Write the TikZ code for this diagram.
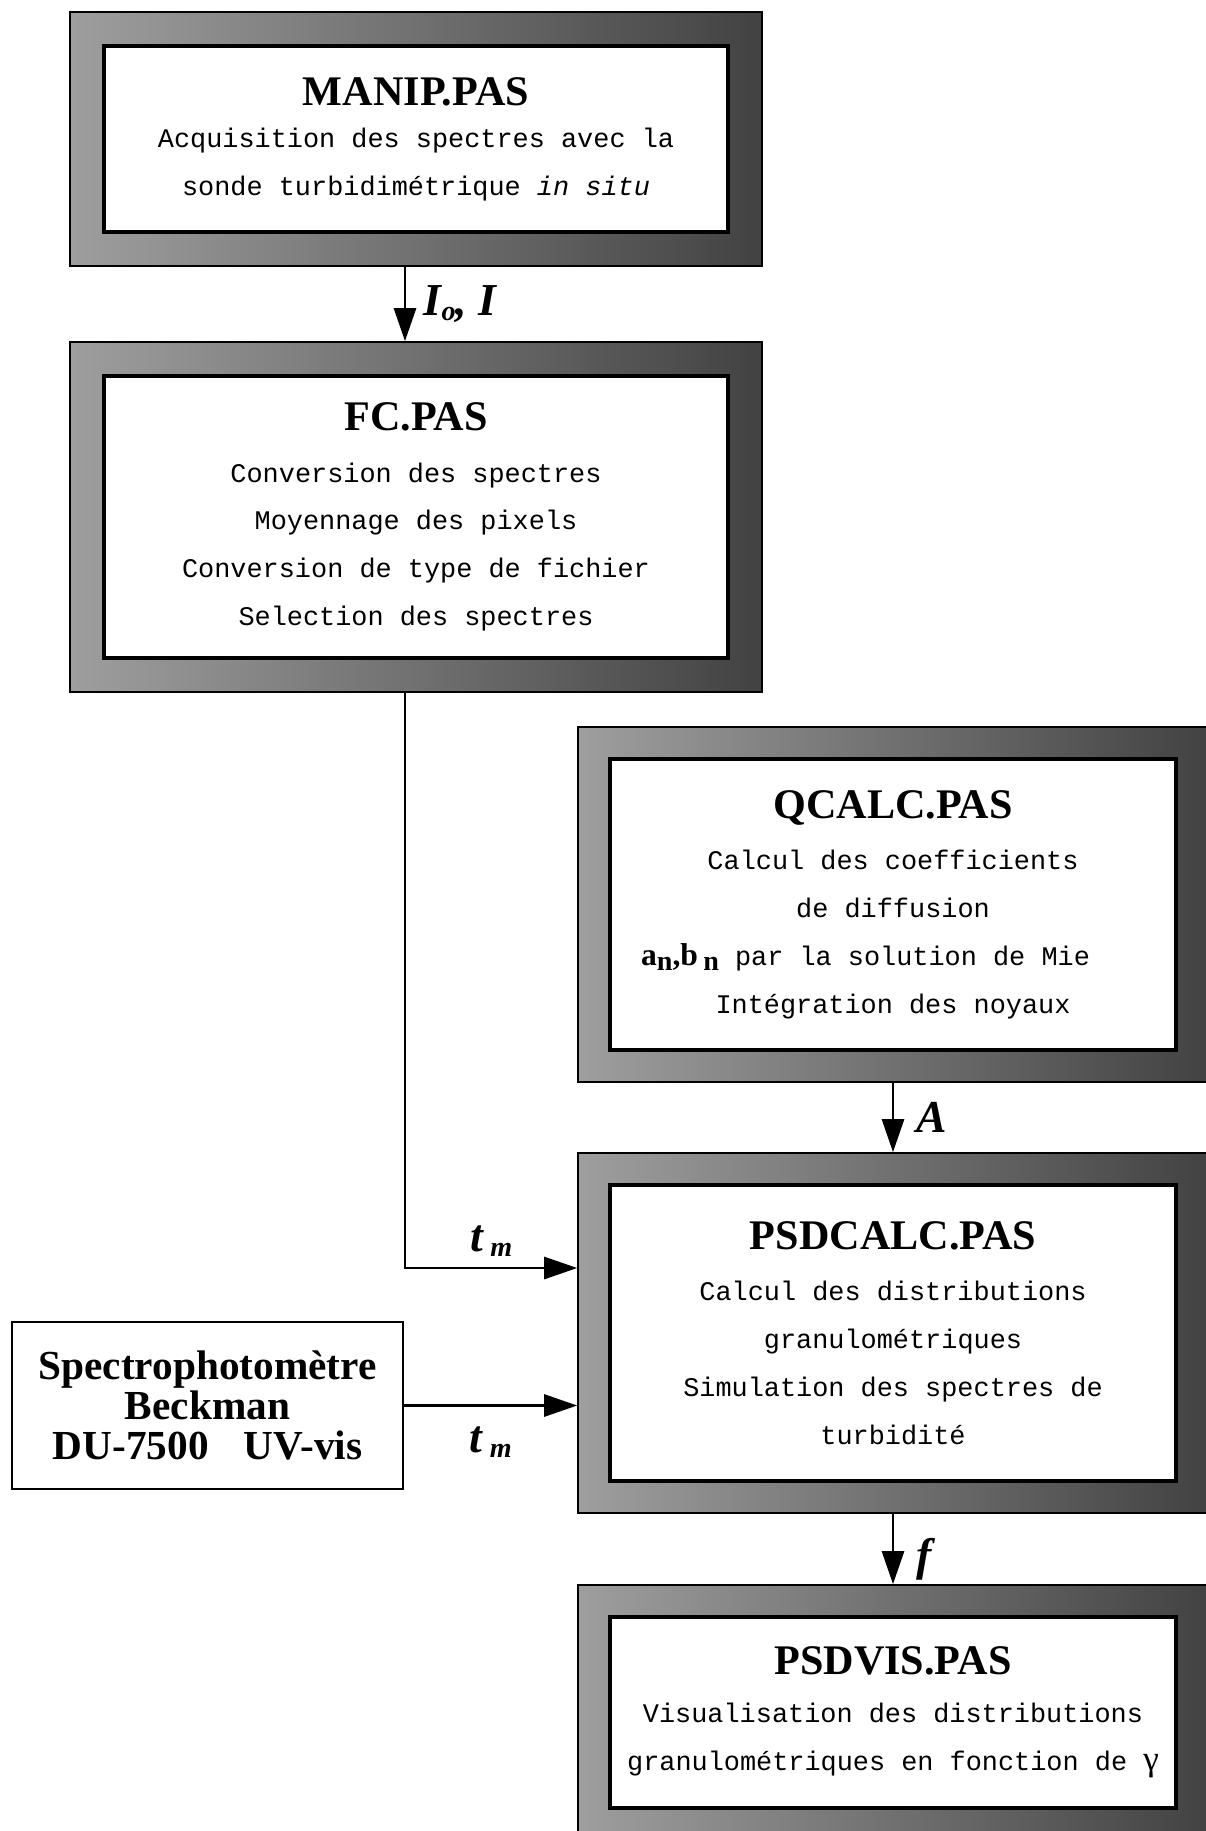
\documentclass[tikz,border=0pt]{standalone}
\usepackage{fontspec}
\setmainfont{Liberation Serif}
\setmonofont{Liberation Mono}
\usepackage{tikz}
\usetikzlibrary{arrows.meta, calc}

\definecolor{frameL}{gray}{0.62}
\definecolor{frameR}{gray}{0.26}
\newcommand{\ttl}{\fontsize{24}{26}\selectfont\rmfamily\bfseries}
\newcommand{\lowsub}[1]{\raisebox{-3pt}{\fontsize{16}{16}\selectfont #1}}

\begin{document}
\begin{tikzpicture}
    [x=0.02cm, y=-0.02cm,
     frame/.style={draw, line width=1pt, left color=frameL, right color=frameR, inner sep=0pt},
     panel/.style={draw, line width=1.8pt, fill=white, align=center, inner sep=0pt,
                   font=\ttfamily\fontsize{15.3}{27.2}\selectfont},
     source/.style={draw, line width=1.3pt, align=center, inner sep=0pt,
                    font=\fontsize{23.5}{22.8}\selectfont\bfseries},
     flow/.style={draw, line width=1.6pt, -{Triangle[length=0.66cm, width=0.44cm]}},
     lbl/.style={font=\fontsize{26}{28}\selectfont\bfseries\itshape, inner sep=0pt}]

    \useasboundingbox (0,0) rectangle (1206,1831);
    \coordinate (spine) at (405,0);

    % programmes
    \node[frame, minimum width=13.84cm, minimum height=5.08cm] (manip) at (416,139) {};
    \node[panel, minimum width=12.48cm, minimum height=3.72cm] (manipT) at (manip)
        {{\ttl MANIP.PAS}\\[-3pt] Acquisition des spectres avec la\\ sonde turbidimétrique \textit{in situ}};

    \node[frame, minimum width=13.84cm, minimum height=7cm] (fc) at (416,517) {};
    \node[panel, minimum width=12.48cm, minimum height=5.64cm] (fcT) at (fc)
        {{\ttl FC.PAS}\\[2pt] Conversion des spectres\\ Moyennage des pixels\\
         Conversion de type de fichier\\ Selection des spectres};

    \node[frame, minimum width=12.6cm, minimum height=7.1cm] (qcalc) at (893,904.5) {};
    \node[panel, minimum width=11.32cm, minimum height=5.82cm] (qcalcT) at (qcalc)
        {{\ttl QCALC.PAS}\\[2pt] Calcul des coefficients\\ de diffusion\\
         {\rmfamily\bfseries\fontsize{18}{18}\selectfont a\lowsub{n},b\,\lowsub{n}} par la solution de Mie\rule{1.1cm}{0pt}\\
         Intégration des noyaux};

    \node[frame, minimum width=12.6cm, minimum height=7.2cm] (psdcalc) at (893,1333) {};
    \node[panel, minimum width=11.32cm, minimum height=5.92cm] (psdcalcT) at (psdcalc)
        {{\ttl PSDCALC.PAS}\\[2pt] Calcul des distributions\\ granulométriques\\
         Simulation des spectres de\\ turbidité};

    \node[frame, minimum width=12.6cm, minimum height=5.1cm] (psdvis) at (893,1712.5) {};
    \node[panel, minimum width=11.32cm, minimum height=3.82cm] (psdvisT) at (psdvis)
        {{\ttl PSDVIS.PAS}\\[0pt] Visualisation des distributions\\
         granulométriques en fonction de {\rmfamily\fontsize{20}{20}\selectfont γ}};

    % appareil
    \node[source, minimum width=7.82cm, minimum height=3.34cm] (spectro) at (207.5,1405.5)
        {Spectrophotomètre\\ Beckman\\ DU-7500\hspace{0.6em} UV-vis};

    % flux de donnees
    \draw[flow] (manip.south -| spine) -- node[lbl, right=0.35cm] (lIo)
        {I\lowsub{o}, I} (fc.north -| spine);
    \draw[flow] (fc.south -| spine) |- node[lbl, pos=0.75, above=0.2cm] (ltmA)
        {t\,\lowsub{m}} ($(psdcalc.west)+(0,-65)$);
    \draw[flow] (spectro.east) -- node[lbl, below=0.4cm] (ltmB)
        {t\,\lowsub{m}} (spectro.east -| psdcalc.west);
    \draw[flow] (qcalc.south) -- node[lbl, right=0.45cm] (lA) {A} (psdcalc.north);
    \draw[flow] (psdcalc.south) -- node[lbl, right=0.45cm, yshift=-0.2cm] (lf) {f} (psdvis.north);
\end{tikzpicture}
\end{document}
